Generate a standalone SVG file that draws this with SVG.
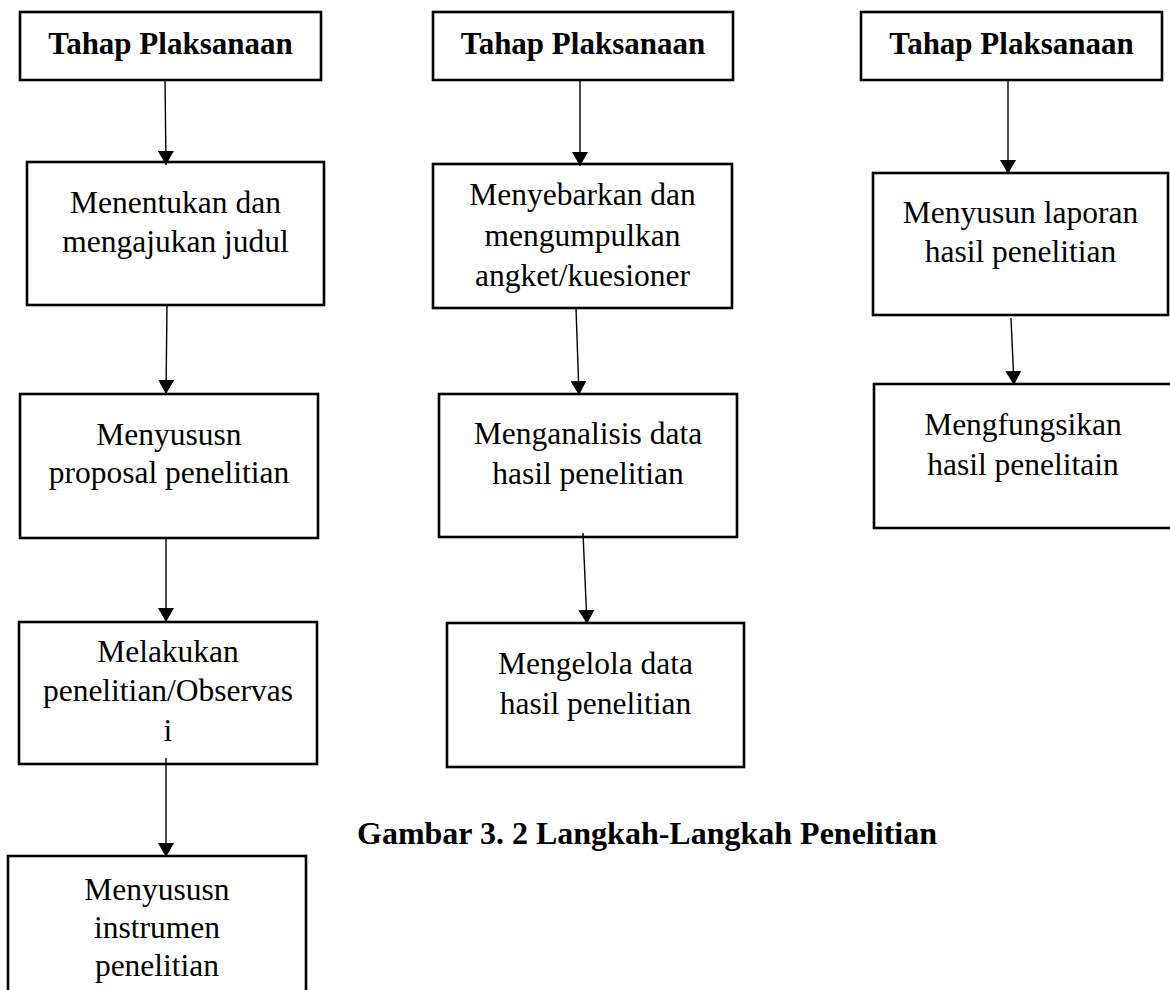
<svg xmlns="http://www.w3.org/2000/svg" width="1170" height="990" viewBox="0 0 1170 990">
<style>
.box{fill:#fff;stroke:#000;stroke-width:2.6}
.hd{font-family:"Liberation Serif","Times New Roman",serif;font-weight:bold;font-size:31px;text-anchor:middle;fill:#000}
.tx{font-family:"Liberation Serif","Times New Roman",serif;font-size:31.5px;text-anchor:middle;fill:#000}
.cap{font-family:"Liberation Serif","Times New Roman",serif;font-weight:bold;font-size:32px;fill:#000}
.ar{stroke:#000;stroke-width:1.4;fill:none;marker-end:url(#ah)}
</style>
<defs>
<marker id="ah" viewBox="0 0 14 16" refX="14" refY="8" markerWidth="14" markerHeight="16" markerUnits="userSpaceOnUse" orient="auto">
<path d="M0,0 L14,8 L0,16 z" fill="#000"/>
</marker>
</defs>
<rect width="1170" height="990" fill="#fff"/>
<g id="h1"><rect class="box" x="20" y="12" width="301" height="68"/><text class="hd" x="170.5" y="54">Tahap Plaksanaan</text></g>
<g id="b1"><rect class="box" x="27" y="162" width="297" height="143"/><text class="tx" x="175.5" y="213">Menentukan dan</text><text class="tx" x="175.5" y="252">mengajukan judul</text></g>
<g id="b2"><rect class="box" x="20" y="394" width="298" height="144"/><text class="tx" x="169" y="445">Menyususn</text><text class="tx" x="169" y="483">proposal penelitian</text></g>
<g id="b3"><rect class="box" x="19" y="622" width="298" height="142"/><text class="tx" x="168" y="662">Melakukan</text><text class="tx" x="168" y="701">penelitian/Observas</text><text class="tx" x="168" y="741">i</text></g>
<g id="b4"><rect class="box" x="8" y="856" width="298" height="150"/><text class="tx" x="157" y="900">Menyususn</text><text class="tx" x="157" y="938">instrumen</text><text class="tx" x="157" y="976">penelitian</text></g>
<g id="h2"><rect class="box" x="433" y="12" width="300" height="68"/><text class="hd" x="583" y="54">Tahap Plaksanaan</text></g>
<g id="b5"><rect class="box" x="433" y="164" width="299" height="144"/><text class="tx" x="582.5" y="205">Menyebarkan dan</text><text class="tx" x="582.5" y="246">mengumpulkan</text><text class="tx" x="582.5" y="286">angket/kuesioner</text></g>
<g id="b6"><rect class="box" x="439" y="394" width="298" height="143"/><text class="tx" x="588" y="444">Menganalisis data</text><text class="tx" x="588" y="484">hasil penelitian</text></g>
<g id="b7"><rect class="box" x="447" y="623" width="297" height="144"/><text class="tx" x="595.5" y="674">Mengelola data</text><text class="tx" x="595.5" y="714">hasil penelitian</text></g>
<g id="h3"><rect class="box" x="861" y="12" width="301" height="68"/><text class="hd" x="1011.5" y="54">Tahap Plaksanaan</text></g>
<g id="b8"><rect class="box" x="873" y="173" width="295" height="142"/><text class="tx" x="1020.5" y="223">Menyusun laporan</text><text class="tx" x="1020.5" y="262">hasil penelitian</text></g>
<g id="b9"><rect class="box" x="874" y="384" width="300" height="144"/><text class="tx" x="1023" y="435">Mengfungsikan</text><text class="tx" x="1023" y="475">hasil penelitain</text></g>
<g id="connectors">
<line class="ar" x1="165" y1="80" x2="166" y2="165"/>
<line class="ar" x1="167" y1="305" x2="166" y2="394"/>
<line class="ar" x1="166" y1="538" x2="166" y2="622"/>
<line class="ar" x1="166" y1="758" x2="166" y2="857"/>
<line class="ar" x1="580" y1="80" x2="580" y2="166"/>
<line class="ar" x1="576" y1="308" x2="579" y2="395"/>
<line class="ar" x1="583" y1="533" x2="587" y2="624"/>
<line class="ar" x1="1008" y1="80" x2="1008" y2="174"/>
<line class="ar" x1="1011" y1="318" x2="1014" y2="385"/>
</g>
<text class="cap" x="357" y="844">Gambar 3. 2 Langkah-Langkah Penelitian</text>
</svg>
